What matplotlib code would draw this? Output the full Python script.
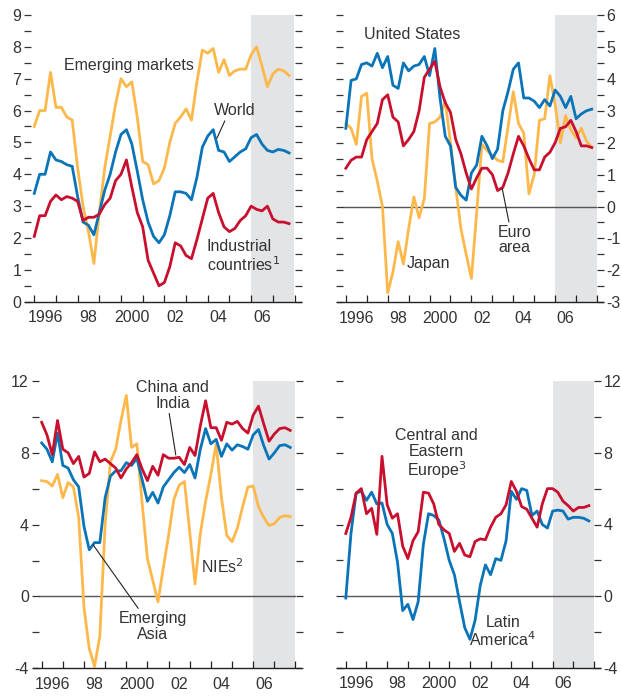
import matplotlib
matplotlib.use("Agg")
import matplotlib.pyplot as plt
import numpy as np
from matplotlib.ticker import FixedLocator, FixedFormatter, NullFormatter

plt.rcParams['font.family'] = ['Liberation Sans', 'DejaVu Sans']
plt.rcParams['axes.unicode_minus'] = False

# quarterly, 1996:Q1 - 2007:Q4
quarters = 1996 + np.arange(48) / 4.0

emerging_markets = [5.5, 6.0, 6.0, 7.2, 6.1, 6.1, 5.8, 5.7, 4.2, 3.0, 2.2, 1.2,
                    2.8, 4.2, 5.2, 6.2, 7.0, 6.75, 6.9, 5.8, 4.4, 4.3, 3.7, 3.8,
                    4.2, 5.0, 5.6, 5.8, 6.05, 5.7, 6.9, 7.9, 7.8, 7.95, 7.2, 7.6,
                    7.1, 7.25, 7.3, 7.3, 7.75, 8.0, 7.4, 6.75, 7.15, 7.3, 7.25, 7.1]
world = [3.4, 4.0, 4.0, 4.7, 4.45, 4.4, 4.3, 4.25, 3.3, 2.5, 2.4, 2.1,
         2.8, 3.5, 4.0, 4.7, 5.25, 5.4, 4.95, 4.1, 3.2, 2.5, 2.05, 1.85,
         2.1, 2.7, 3.45, 3.45, 3.4, 3.2, 3.9, 4.85, 5.2, 5.4, 4.75, 4.7,
         4.4, 4.55, 4.7, 4.8, 5.15, 5.25, 4.95, 4.75, 4.7, 4.78, 4.75, 4.67]
industrial = [2.05, 2.7, 2.7, 3.15, 3.35, 3.2, 3.3, 3.25, 3.15, 2.55, 2.65, 2.65,
              2.75, 3.05, 3.25, 3.8, 4.0, 4.45, 3.6, 2.8, 2.35, 1.3, 0.9, 0.5,
              0.6, 1.1, 1.85, 1.75, 1.45, 1.35, 1.95, 2.6, 3.25, 3.4, 2.8, 2.35,
              2.2, 2.3, 2.55, 2.7, 3.0, 2.9, 2.85, 3.0, 2.6, 2.5, 2.5, 2.45]

united_states = [2.45, 3.95, 4.0, 4.45, 4.5, 4.4, 4.8, 4.35, 4.7, 3.8, 3.7, 4.5,
                 4.25, 4.4, 4.45, 4.7, 4.1, 4.95, 3.4, 2.2, 1.9, 0.6, 0.35, 0.2,
                 1.05, 1.3, 2.2, 1.9, 1.5, 1.8, 3.0, 3.6, 4.3, 4.5, 3.4, 3.4,
                 3.3, 3.1, 3.35, 3.15, 3.65, 3.45, 3.1, 3.45, 2.75, 2.9, 3.0, 3.05]
japan = [2.6, 2.45, 1.95, 3.45, 3.55, 1.5, 0.8, 0.0, -2.7, -2.05, -1.1, -1.8,
         -0.7, 0.3, -0.35, 0.25, 2.6, 2.65, 2.8, 3.3, 2.0, 0.6, -0.7, -1.5,
         -2.25, -0.2, 1.95, 1.75, 1.6, 1.45, 1.4, 2.5, 3.6, 2.6, 2.3, 0.4,
         1.0, 2.7, 2.75, 4.1, 3.2, 2.0, 2.85, 2.4, 2.15, 2.45, 2.05, 1.85]
euro_area = [1.2, 1.45, 1.55, 1.55, 2.1, 2.35, 2.6, 3.35, 3.5, 2.8, 2.65, 1.9,
             2.1, 2.35, 3.0, 4.05, 4.3, 4.55, 3.75, 3.25, 2.95, 2.1, 1.65, 1.05,
             0.55, 0.9, 1.2, 1.2, 1.0, 0.5, 0.6, 1.05, 1.65, 2.2, 1.9, 1.5,
             1.15, 1.15, 1.55, 1.7, 2.0, 2.45, 2.5, 2.7, 2.35, 1.9, 1.9, 1.85]

china_india = [9.7, 9.0, 7.9, 9.8, 8.2, 8.0, 7.4, 7.8, 6.65, 6.85, 8.05, 7.5,
               7.65, 7.4, 7.15, 6.6, 7.1, 7.45, 7.9, 7.1, 6.45, 7.25, 6.75, 7.9,
               7.7, 7.7, 7.75, 7.35, 8.3, 7.85, 9.5, 10.9, 9.4, 9.4, 8.7, 9.7,
               9.6, 9.75, 9.35, 9.1, 10.1, 10.6, 9.6, 8.65, 9.05, 9.35, 9.4, 9.25]
emerging_asia = [8.55, 8.2, 7.5, 9.1, 7.3, 7.15, 6.5, 6.1, 3.9, 2.6, 3.0, 3.0,
                 5.5, 6.7, 7.0, 7.0, 7.45, 7.3, 7.7, 6.5, 5.3, 5.8, 5.2, 6.1,
                 6.5, 6.9, 7.2, 6.9, 7.35, 6.6, 8.2, 9.35, 8.5, 8.75, 7.8, 8.5,
                 8.15, 8.45, 8.35, 8.2, 9.0, 9.3, 8.4, 7.65, 8.0, 8.4, 8.45, 8.3]
nies = [6.45, 6.4, 6.15, 6.8, 5.5, 6.35, 6.1, 4.4, -0.6, -2.9, -3.9, -2.2,
        4.0, 7.5, 8.2, 9.8, 11.2, 8.3, 8.5, 5.2, 2.1, 0.9, -0.3, 1.6,
        3.4, 5.4, 6.2, 6.4, 3.6, 0.7, 3.5, 5.3, 6.8, 8.5, 5.5, 3.4,
        3.05, 3.8, 5.0, 6.1, 6.15, 5.0, 4.4, 3.95, 4.05, 4.4, 4.5, 4.45]

cee = [3.5, 4.4, 5.75, 6.0, 4.6, 4.9, 3.45, 7.8, 5.1, 4.35, 4.6, 2.8,
       2.1, 3.1, 3.6, 5.8, 5.75, 5.15, 4.0, 3.7, 3.5, 2.5, 2.95, 2.3,
       2.2, 3.05, 3.2, 3.15, 3.85, 4.4, 4.6, 5.1, 6.4, 5.85, 5.0, 4.85,
       4.35, 3.85, 5.15, 6.0, 6.0, 5.8, 5.3, 5.05, 4.75, 4.95, 4.95, 5.05]
latin_america = [-0.1, 3.5, 5.75, 5.85, 5.35, 5.8, 5.15, 5.2, 4.0, 3.5, 1.9, -0.8,
                 -0.45, -1.3, -0.3, 2.9, 4.6, 4.5, 4.25, 3.2, 2.0, 1.2, -0.3, -1.75,
                 -2.4, -1.35, 0.6, 1.75, 1.2, 2.1, 2.0, 3.1, 5.85, 5.4, 6.0, 5.9,
                 4.5, 4.75, 4.0, 3.8, 4.75, 4.8, 4.75, 4.3, 4.4, 4.4, 4.35, 4.2]

year_ticks = np.arange(1996, 2009)
label_pos = [1996.5, 1998.5, 2000.5, 2002.5, 2004.5, 2006.5]
label_txt = ['1996', '98', '2000', '02', '04', '06']

ORANGE = '#fdb84c'
BLUE = '#0a74b9'
RED = '#c8102e'
SHADE = '#e3e4e6'
FS = 11.5

W, H = 621, 696
fig = plt.figure(figsize=(W / 100, H / 100), dpi=100)


def make_ax(l, r, t, b):
    return fig.add_axes([l / W, 1 - b / H, (r - l) / W, (b - t) / H])


def style(ax, ylim, major, minor, side):
    x0, x1 = 1995.85, 2008
    ax.set_xlim(x0, x1)
    ax.set_ylim(*ylim)
    ax.axvspan(2006, 2008, color=SHADE, lw=0, zorder=0)
    for s in ['top', 'left', 'right']:
        ax.spines[s].set_visible(False)
    ax.spines['bottom'].set_bounds(x0 - 0.28, x1 + 0.28)
    ax.spines['bottom'].set_linewidth(1.0)
    ax.spines['bottom'].set_color('#222222')
    ax.xaxis.set_major_locator(FixedLocator(year_ticks))
    ax.xaxis.set_major_formatter(NullFormatter())
    ax.xaxis.set_minor_locator(FixedLocator(label_pos))
    ax.xaxis.set_minor_formatter(FixedFormatter(label_txt))
    ax.tick_params(axis='x', which='major', direction='in', length=5, width=0.9, color='#222222')
    ax.tick_params(axis='x', which='minor', length=0, pad=6, labelsize=FS, labelcolor='#333333')
    ax.yaxis.set_major_locator(FixedLocator(major))
    ax.yaxis.set_minor_locator(FixedLocator(minor))
    ax.yaxis.set_minor_formatter(NullFormatter())
    ax.tick_params(axis='y', which='both', direction='out', length=5, width=0.9,
                   color='#333333', left=True, right=True,
                   labelleft=(side == 'left'), labelright=(side == 'right'),
                   labelsize=FS, labelcolor='#333333', pad=2)


# top left
ax1 = make_ax(31, 294.5, 15, 301.7)
style(ax1, (0, 9), np.arange(0, 10), np.arange(0.5, 9, 1), 'left')
ax1.plot(quarters, emerging_markets, color=ORANGE, lw=2.0)
ax1.plot(quarters, world, color=BLUE, lw=2.0)
ax1.plot(quarters, industrial, color=RED, lw=2.0)
ax1.text(1997.35, 7.43, 'Emerging markets', fontsize=FS, va='center', color='#333333')
ax1.annotate('World', xy=(2004.42, 5.13), xytext=(2004.27, 6.0), fontsize=FS,
             va='center', color='#333333',
             arrowprops=dict(arrowstyle='-', lw=0.8, color='#222222', shrinkA=0, shrinkB=0,
                             relpos=(0.3, 0.0)))
ax1.text(2003.96, 1.42, 'Industrial\ncountries$^1$', fontsize=FS, va='center',
         linespacing=1.05, color='#333333')

# top right
ax2 = make_ax(342.7, 597, 15, 302.3)
style(ax2, (-3, 6), np.arange(-3, 7), np.arange(-2.5, 6, 1), 'right')
ax2.axhline(0, color='#555555', lw=1.0, zorder=1)
ax2.plot(quarters, japan, color=ORANGE, lw=2.0)
ax2.plot(quarters, united_states, color=BLUE, lw=2.0)
ax2.plot(quarters, euro_area, color=RED, lw=2.0)
ax2.text(1996.87, 5.38, 'United States', fontsize=FS, va='center', color='#333333')
ax2.text(1998.92, -1.77, 'Japan', fontsize=FS, va='center', color='#333333')
ax2.annotate('Euro\narea', xy=(2003.47, 0.57), xytext=(2004.06, -1.05), fontsize=FS,
             ha='center', va='center', linespacing=1.05, color='#333333',
             arrowprops=dict(arrowstyle='-', lw=0.8, color='#222222', shrinkA=0, shrinkB=0,
                             relpos=(0.35, 1.0)))

# bottom left
ax3 = make_ax(38.5, 295.5, 381, 668.3)
style(ax3, (-4, 12), np.arange(-4, 13, 4), np.arange(-2, 12, 4), 'left')
ax3.axhline(0, color='#555555', lw=1.0, zorder=1)
ax3.plot(quarters, nies, color=ORANGE, lw=2.0)
ax3.plot(quarters, emerging_asia, color=BLUE, lw=2.0)
ax3.plot(quarters, china_india, color=RED, lw=2.0)
ax3.annotate('China and\nIndia', xy=(2002.34, 7.88), xytext=(2002.18, 11.2), fontsize=FS,
             ha='center', va='center', linespacing=1.05, color='#333333',
             arrowprops=dict(arrowstyle='-', lw=0.8, color='#222222', shrinkA=0, shrinkB=0,
                             relpos=(0.45, 0.0)))
ax3.text(2003.55, 1.67, 'NIEs$^2$', fontsize=FS, va='center', color='#333333')
ax3.annotate('Emerging\nAsia', xy=(1998.43, 2.88), xytext=(2001.24, -1.67), fontsize=FS,
             ha='center', va='center', linespacing=1.05, color='#333333',
             arrowprops=dict(arrowstyle='-', lw=0.8, color='#222222', shrinkA=0, shrinkB=0,
                             relpos=(0.32, 1.0)))

# bottom right
ax4 = make_ax(342.7, 594, 381, 668)
style(ax4, (-4, 12), np.arange(-4, 13, 4), np.arange(-2, 12, 4), 'right')
ax4.axhline(0, color='#555555', lw=1.0, zorder=1)
ax4.plot(quarters, latin_america, color=BLUE, lw=2.0)
ax4.plot(quarters, cee, color=RED, lw=2.0)
ax4.text(2000.39, 7.9, 'Central and\nEastern\nEurope$^3$', fontsize=FS, ha='center',
         va='center', linespacing=1.05, color='#333333')
ax4.text(2003.59, -1.98, 'Latin\nAmerica$^4$', fontsize=FS, ha='center', va='center',
         linespacing=1.05, color='#333333')

fig.savefig('out.png', dpi=100)
